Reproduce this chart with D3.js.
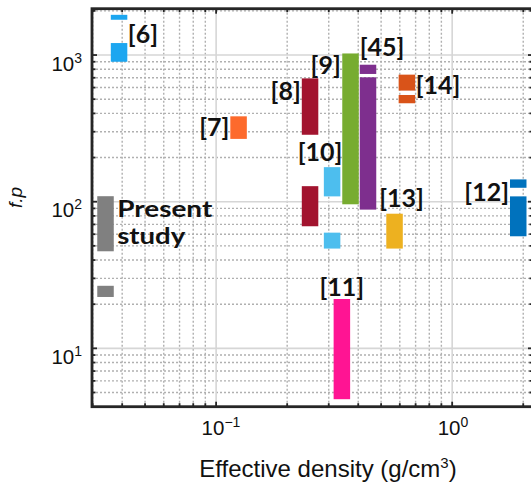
<!DOCTYPE html>
<html><head><meta charset="utf-8">
<script src="https://cdn.jsdelivr.net/npm/d3@7"></script>
<style>
html,body{margin:0;padding:0;background:#fff;}
svg{display:block;}
</style></head>
<body>
<svg id="chart" width="531" height="489"></svg>
<script>
// ---- data ----
const studies = ["[6]","[7]","[8]","[9]","[45]","[14]","[10]","[13]","[12]","[11]","Present study"];
const densities = [0.0388, 0.1245, 0.25, 0.371, 0.44, 0.643, 0.31, 0.57, 1.905, 0.341, 0.034];
// each study: list of [low, high] f.p ranges
const ranges = [
  [[1740,1880],[900,1207]],
  [[268,382]],
  [[286,693],[68,127.6]],
  [[96,1025]],
  [[743,859],[88.3,705]],
  [[572,735],[469,534]],
  [[108.7,172],[47.9,61.5]],
  [[47.9,82.8]],
  [[124.4,141.9],[58.1,108.7]],
  [[4.5,21.7]],
  [[45.9,109],[22.4,26.7]]
];
const colors = ["#1ca6f0","#fd6a2c","#a2142f","#77ac30","#7e2f8e","#d95319","#4dbeee","#edb120","#0072bd","#ff1493","#808080"];
const labelPos = ["right","left","left","left","top","right","top","top","left","top","right2"];
const xDomain = [0.0298, 2.2];
const yDomain = [4.0, 2070];
const xMajor = [0.1, 1];
const yMajor = [10, 100, 1000];

// ---- layout ----
const svg = d3.select("#chart");
const L = 92, R = 533, T = 8.7, B = 406.7;
const x = d3.scaleLog().domain(xDomain).range([L, R]);
const y = d3.scaleLog().domain(yDomain).range([B, T]);
const barW = 16.5;
const axisColor = "#262626";

function minorTicks(dom){
  const out=[];
  for(let e=Math.floor(Math.log10(dom[0]));e<=Math.ceil(Math.log10(dom[1]));e++){
    for(let m=2;m<=9;m++){const v=m*Math.pow(10,e); if(v>dom[0]*1.001&&v<dom[1]*0.999) out.push(v);}
  }
  return out;
}
const xMinor = minorTicks(xDomain), yMinor = minorTicks(yDomain);

const g = svg.append("g");
// minor grid
g.selectAll(".xmg").data(xMinor).enter().append("line")
  .attr("x1",d=>x(d)).attr("x2",d=>x(d)).attr("y1",T).attr("y2",B)
  .attr("stroke","#b0b0b0").attr("stroke-width",1.4).attr("stroke-dasharray","2,2");
g.selectAll(".ymg").data(yMinor).enter().append("line")
  .attr("y1",d=>y(d)).attr("y2",d=>y(d)).attr("x1",L).attr("x2",R)
  .attr("stroke","#b0b0b0").attr("stroke-width",1.4).attr("stroke-dasharray","2,2");
// major grid
g.selectAll(".xMg").data(xMajor).enter().append("line")
  .attr("x1",d=>x(d)).attr("x2",d=>x(d)).attr("y1",T).attr("y2",B)
  .attr("stroke","#d6d6d6").attr("stroke-width",1.6);
g.selectAll(".yMg").data(yMajor).enter().append("line")
  .attr("y1",d=>y(d)).attr("y2",d=>y(d)).attr("x1",L).attr("x2",R)
  .attr("stroke","#d6d6d6").attr("stroke-width",1.6);

// bars
const bars = [];
studies.forEach((s,i)=>ranges[i].forEach(r=>bars.push({i, lo:r[0], hi:r[1]})));
g.selectAll(".bar").data(bars).enter().append("rect")
  .attr("x",d=>x(densities[d.i])-barW/2).attr("width",barW)
  .attr("y",d=>y(d.hi)).attr("height",d=>y(d.lo)-y(d.hi))
  .attr("fill",d=>colors[d.i]);

// inward ticks on all four sides
const tickLenMajor = 5, tickLenMinor = 3.5;
const tg = svg.append("g").attr("stroke",axisColor).attr("stroke-width",1.8);
xMajor.concat(xMinor).forEach(v=>{
  const len = xMajor.includes(v)?tickLenMajor:tickLenMinor;
  tg.append("line").attr("x1",x(v)).attr("x2",x(v)).attr("y1",B).attr("y2",B-len);
  tg.append("line").attr("x1",x(v)).attr("x2",x(v)).attr("y1",T).attr("y2",T+len);
});
yMajor.concat(yMinor).forEach(v=>{
  const len = yMajor.includes(v)?tickLenMajor:tickLenMinor;
  tg.append("line").attr("y1",y(v)).attr("y2",y(v)).attr("x1",L).attr("x2",L+len);
  tg.append("line").attr("y1",y(v)).attr("y2",y(v)).attr("x1",R).attr("x2",R-len);
});
svg.append("rect").attr("x",L).attr("y",T).attr("width",R-L).attr("height",B-T)
  .attr("fill","none").attr("stroke",axisColor).attr("stroke-width",2.8);

// tick labels
const tf = "Liberation Sans, Arial, sans-serif";
function powLabel(sel, v){
  const e = Math.round(Math.log10(v));
  sel.append("tspan").text("10");
  sel.append("tspan").attr("dy",-8).attr("font-size",14).text(e<0?"\u2212"+(-e):String(e));
}
xMajor.forEach(v=>{
  const t = svg.append("text").attr("x",x(v)-14.5).attr("y",435).attr("text-anchor","start")
    .attr("font-family",tf).attr("font-size",20.5).attr("fill","#111");
  powLabel(t,v);
});
yMajor.forEach(v=>{
  const t = svg.append("text").attr("x",82).attr("y",y(v)+15.5).attr("text-anchor","end")
    .attr("font-family",tf).attr("font-size",20.5).attr("fill","#111");
  powLabel(t,v);
});
// axis titles
const xt = svg.append("text").attr("x",328).attr("y",477).attr("text-anchor","middle")
  .attr("font-family",tf).attr("font-size",24).attr("fill","#111");
xt.append("tspan").text("Effective density (g/cm");
xt.append("tspan").attr("dy",-9).attr("font-size",15).text("3");
xt.append("tspan").attr("dy",9).text(")");
svg.append("text").attr("transform","translate(22,197.5) rotate(-90)").attr("text-anchor","middle")
  .attr("font-family",tf).attr("font-size",19).attr("font-style","italic").attr("fill","#111").text("f.p");

// study labels
const lf = "Lato, 'Open Sans', sans-serif";
const fs = 25;
studies.forEach((s,i)=>{
  const cx = x(densities[i]);
  const top = d3.max(ranges[i], r=>r[1]);
  const yt = y(top);
  let tx, ty, anchor;
  const pos = labelPos[i];
  if(pos==="right"){ tx = cx+barW/2+0.5; ty = yt+ (i===0?28:19); anchor="start"; }
  else if(pos==="left"){ tx = cx-barW/2-1; ty = yt+ (i===1?20:22); anchor="end"; }
  else if(pos==="top"){ tx = cx; ty = yt-3; anchor="middle"; }
  if(s==="[45]"){ tx = cx+14; ty = yt-9; }
  if(s==="[10]"){ tx = cx-12; ty = yt-6; }
  if(s==="[13]"){ tx = cx+7; ty = yt-7; }
  if(s==="[9]"){ ty = yt+21; tx = cx-barW/2-1.5; }
  if(s==="[12]"){ ty = yt+22; }
  if(pos==="right2"){
    const px = cx+barW/2+3.5;
    const words = s.split(" ");
    const widths = [95, 68];
    words.forEach((w,k)=>{
      svg.append("text").attr("x",px).attr("y",yt+21+k*27)
        .attr("font-family",lf).attr("font-weight",700).attr("font-size",23).attr("fill","#111")
        .attr("textLength",widths[k]).attr("lengthAdjust","spacingAndGlyphs").text(w);
    });
    return;
  }
  svg.append("text").attr("x",tx).attr("y",ty).attr("text-anchor",anchor)
    .attr("font-family",lf).attr("font-weight",700).attr("font-size",fs).attr("fill","#111").text(s);
});
</script>
</body></html>
